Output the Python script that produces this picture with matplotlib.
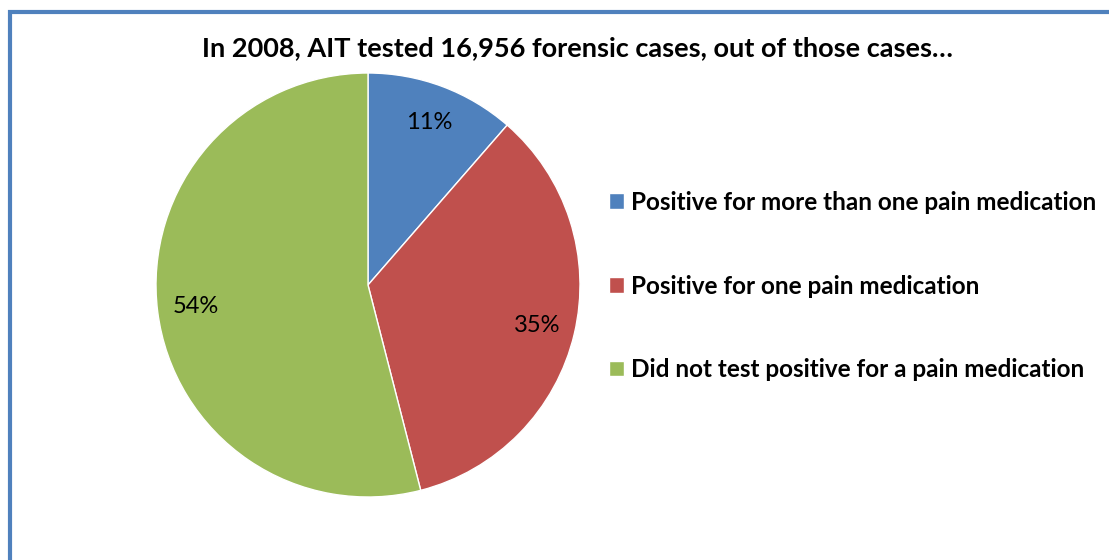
import matplotlib
matplotlib.use("Agg")
import matplotlib.pyplot as plt
from matplotlib.patches import Rectangle

title = "In 2008, AIT tested 16,956 forensic cases, out of those cases…"
categories = ["Positive for more than one pain medication",
              "Positive for one pain medication",
              "Did not test positive for a pain medication"]
values = [11.4, 34.6, 54.0]
colors = ["#4F81BD", "#C0504D", "#9BBB59"]

W, H = 1109, 560
fig = plt.figure(figsize=(W / 100, H / 100), dpi=100)
fig.patch.set_facecolor("white")
plt.rcParams['font.family'] = ['Lato', 'DejaVu Sans']

# frame
fig.patches.append(Rectangle((10 / W, -0.1), 1.2, 1 - 12 / H + 0.1,
                             transform=fig.transFigure, fill=False,
                             edgecolor="#4F81BD", linewidth=3.0, zorder=0))

cx, cy, r = 368, 285, 212
ax = fig.add_axes([(cx - r) / W, (H - cy - r) / H, 2 * r / W, 2 * r / H])
wedges, texts, autotexts = ax.pie(
    values, colors=colors, startangle=90, counterclock=False,
    autopct=lambda p: f"{p:.0f}%", pctdistance=0.82,
    wedgeprops=dict(edgecolor="white", linewidth=1.0),
    textprops=dict(fontsize=17, color="black"))
ax.set_xlim(-1, 1)
ax.set_ylim(-1, 1)
ax.set_aspect("equal")
ax.axis("off")

fig.text(577 / W, 1 - 48 / H, title, ha="center", va="center",
         fontsize=19.5, fontweight="bold")

fig.legend(wedges, categories, loc="center left",
           bbox_to_anchor=(609 / W, 1 - 286 / H), frameon=False,
           prop=dict(size=17.5, weight="bold"), handlelength=0.6,
           handleheight=0.6, handletextpad=0.3, labelspacing=2.5,
           borderpad=0, borderaxespad=0)

fig.savefig("out.png", dpi=100, facecolor="white")
